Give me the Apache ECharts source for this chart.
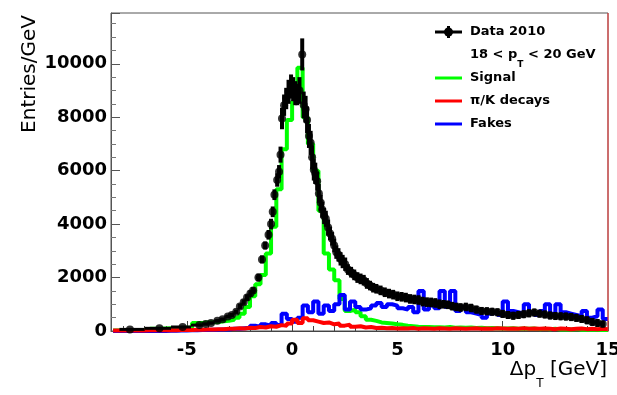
<!DOCTYPE html>
<html>
<head>
<meta charset="utf-8">
<script src="https://cdn.jsdelivr.net/npm/echarts@6/dist/echarts.min.js"></script>
<style>
  body { margin: 0; background: #fff; }
  #chart { width: 617px; height: 395px; }
</style>
</head>
<body>
<div id="chart"></div>
<script>
// histogram binning (GeV)
var binStart = -8.5;
var binWidth = 0.25;

// Signal (green), 94 bins from -8.5
var signal = [
  20, 20, 30, 30, 40, 40, 80, 80, 80, 90, 100, 100, 110, 120,
  130, 300, 300, 320, 330, 340, 360, 380, 420, 500, 650, 900,
  1300, 1750, 2100, 2900, 3900, 5300, 6800, 7900, 8600, 9850, 8000, 7000,
  6000, 4500, 2900, 2300, 1900, 1200, 750, 800, 700, 550, 420, 380,
  320, 300, 280, 250, 230, 200, 180, 160, 150, 150, 140, 140,
  130, 150, 120, 130, 120, 130, 110, 120, 100, 110, 100, 90,
  90, 100, 80, 90, 80, 90, 70, 80, 70, 80, 60, 70,
  60, 70, 50, 60, 50, 50, 40, 40
];

// pi/K decays (red)
var decays = [
  20, 20, 20, 20, 20, 20, 30, 30, 30, 30, 30, 30, 40, 40,
  40, 50, 50, 60, 60, 70, 70, 80, 80, 100, 90, 120,
  110, 150, 130, 180, 160, 220, 200, 280, 420, 300, 480, 400,
  350, 300, 320, 250, 280, 200, 240, 160, 180, 130, 150, 110,
  120, 100, 110, 90, 100, 90, 110, 80, 100, 90, 80, 100,
  90, 80, 100, 90, 80, 90, 100, 80, 90, 80, 100, 90,
  80, 90, 80, 100, 80, 90, 80, 90, 80, 70, 90, 80,
  70, 80, 90, 70, 80, 70, 80, 70
];

// Fakes (blue)
var fakes = [
  0, 0, 0, 0, 0, 0, 0, 0, 0, 0, 10, 10, 20, 20,
  30, 30, 40, 40, 50, 50, 60, 60, 80, 80, 100, 120,
  200, 150, 250, 200, 300, 220, 650, 450, 350, 500, 950, 700,
  1100, 650, 950, 750, 1000, 1350, 800, 1100, 900, 800, 850, 950,
  1050, 900, 1000, 950, 850, 800, 900, 700, 1500, 800, 950, 850,
  1500, 900, 1500, 750, 900, 700, 650, 600, 500, 650, 700, 600,
  1100, 750, 700, 650, 1000, 700, 600, 750, 1000, 650, 1000, 700,
  650, 600, 550, 750, 500, 550, 800, 450
];

// Data 2010 points
var dataX = [
  -7.7, -6.3, -5.2, -4.4, -4.1, -3.85, -3.55, -3.3, -3.05, -2.86, -2.65, -2.48,
  -2.3, -2.14, -1.98, -1.85, -1.6, -1.43, -1.28, -1.12, -1.0, -0.92, -0.84, -0.71,
  -0.62, -0.55, -0.48, -0.38, -0.28, -0.17, -0.05, 0.05, 0.15, 0.24, 0.35, 0.48,
  0.55, 0.64, 0.71, 0.8, 0.88, 0.95, 1.03, 1.1, 1.19, 1.27, 1.36, 1.43,
  1.52, 1.6, 1.71, 1.8, 1.9, 2.0, 2.1, 2.2, 2.3, 2.4, 2.52, 2.65,
  2.8, 2.95, 3.1, 3.25, 3.4, 3.55, 3.7, 3.85, 4.0, 4.2, 4.4, 4.6,
  4.8, 5.0, 5.2, 5.4, 5.6, 5.8, 6.0, 6.2, 6.4, 6.6, 6.8, 7.0,
  7.2, 7.4, 7.6, 7.8, 8.0, 8.25, 8.5, 8.75, 9.0, 9.25, 9.5, 9.75,
  10.0, 10.25, 10.5, 10.75, 11.0, 11.25, 11.5, 11.75, 12.0, 12.25, 12.5, 12.75,
  13.0, 13.25, 13.5, 13.75, 14.0, 14.25, 14.5, 14.75
];
var dataY = [
  60, 100, 150, 220, 260, 300, 380, 440, 540, 600, 720, 920,
  1080, 1250, 1400, 1520, 2000, 2680, 3200, 3600, 4000, 4460, 5100, 5650,
  5960, 6600, 7950, 8450, 8700, 8950, 9150, 9050, 8900, 8850, 9000, 10350,
  8460, 8300, 7900, 7300, 7040, 6500, 6030, 5900, 5600, 5150, 4800, 4540,
  4300, 4200, 3870, 3650, 3450, 3200, 2950, 2850, 2700, 2600, 2500, 2300,
  2200, 2100, 2000, 1950, 1900, 1780, 1700, 1620, 1580, 1520, 1450, 1400,
  1360, 1300, 1280, 1250, 1200, 1180, 1160, 1100, 1080, 1070, 1050, 1000,
  1000, 980, 930, 900, 880, 900, 860, 800, 750, 740, 720, 700,
  640, 600, 570, 600, 630, 660, 690, 650, 620, 580, 560, 550,
  540, 520, 490, 450, 400, 340, 300, 260
];
var dataErr = [
  30, 30, 40, 50, 50, 50, 60, 60, 70, 80, 80, 100,
  100, 120, 120, 120, 150, 150, 150, 180, 200, 200, 200, 250,
  250, 300, 400, 400, 400, 450, 450, 450, 450, 400, 500, 600,
  500, 500, 500, 450, 450, 450, 400, 400, 350, 350, 300, 300,
  300, 300, 300, 250, 250, 250, 250, 250, 250, 250, 250, 200,
  200, 200, 200, 200, 200, 200, 180, 180, 180, 180, 180, 180,
  180, 180, 180, 180, 180, 180, 180, 180, 180, 180, 180, 180,
  160, 160, 160, 160, 160, 160, 160, 150, 150, 150, 150, 150,
  150, 150, 150, 150, 150, 150, 150, 150, 150, 150, 150, 150,
  150, 150, 150, 150, 150, 150, 150, 120
];

// axis ticks
var xLabels = [-5, 0, 5, 10, 15];
var xMinor = [-8, -7, -6, -5, -4, -3, -2, -1, 0, 1, 2, 3, 4, 5, 6, 7, 8, 9, 10, 11, 12, 13, 14, 15];

function histData(vals) {
  var out = [];
  for (var i = 0; i < vals.length; i++) {
    out.push([binStart + i * binWidth, vals[i]]);
  }
  out.push([binStart + vals.length * binWidth, vals[vals.length - 1]]);
  return out;
}

var labelFont = { fontFamily: "DejaVu Sans", fontWeight: "bold", fontSize: 18, color: "#000" };

var chart = echarts.init(document.getElementById("chart"));

var option = {
  animation: false,
  backgroundColor: "#fff",
  grid: {
    left: 111, right: 9, top: 13, bottom: 64,
    outerBoundsMode: "none", containLabel: false,
    show: true, borderColor: "#555", borderWidth: 1
  },
  xAxis: [
    {
      type: "value", min: -8.6, max: 15,
      axisLine: { onZero: false, lineStyle: { color: "#444" } },
      splitLine: { show: false },
      axisTick: { inside: true, length: 10, customValues: xLabels, lineStyle: { color: "#444" } },
      axisLabel: Object.assign({ customValues: xLabels, margin: 10 }, labelFont)
    },
    {
      type: "value", min: -8.6, max: 15, position: "bottom",
      axisLine: { show: false, onZero: false },
      splitLine: { show: false },
      axisTick: { inside: true, length: 5, customValues: xMinor, lineStyle: { color: "#444" } },
      axisLabel: { show: false }
    }
  ],
  yAxis: {
    type: "value", min: 0, max: 11900, interval: 2000,
    axisLine: { show: true, onZero: false, lineStyle: { color: "#555" } },
    splitLine: { show: false },
    axisTick: { inside: true, length: 9, lineStyle: { color: "#555" } },
    minorTick: { show: true, splitNumber: 4, length: 5, lineStyle: { color: "#777" } },
    axisLabel: Object.assign({
      margin: 4,
      formatter: function (v) { return v % 2000 === 0 ? String(v) : ""; }
    }, labelFont)
  },
  series: [
    {
      name: "Signal", type: "line", step: "end", showSymbol: false,
      data: histData(signal),
      lineStyle: { color: "#00ff00", width: 4 }, itemStyle: { color: "#00ff00" }
    },
    {
      name: "Fakes", type: "line", step: "end", showSymbol: false,
      data: histData(fakes),
      lineStyle: { color: "#0000ff", width: 4 }, itemStyle: { color: "#0000ff" }
    },
    {
      name: "pi/K decays", type: "line", step: "end", showSymbol: false,
      data: histData(decays),
      lineStyle: { color: "#ff0000", width: 4 }, itemStyle: { color: "#ff0000" }
    },
    {
      // error bars of the data
      type: "custom",
      data: dataX.map(function (x, i) { return [x, dataY[i], dataErr[i]]; }),
      renderItem: function (params, api) {
        var i = params.dataIndex;
        var x = api.value(0), y = api.value(1), e = api.value(2);
        var lo = i > 0 ? (x + dataX[i - 1]) / 2 : x - 0.5;
        var hi = i < dataX.length - 1 ? (x + dataX[i + 1]) / 2 : x + 0.1;
        var pTop = api.coord([x, y + e]);
        var pBot = api.coord([x, Math.max(0, y - e)]);
        var pL = api.coord([lo, y]);
        var pR = api.coord([hi, y]);
        return {
          type: "group",
          children: [
            { type: "line", shape: { x1: pTop[0], y1: pTop[1], x2: pBot[0], y2: pBot[1] },
              style: { stroke: "#000", lineWidth: 4 } },
            { type: "line", shape: { x1: pL[0], y1: pL[1], x2: pR[0], y2: pR[1] },
              style: { stroke: "#000", lineWidth: 3 } }
          ]
        };
      },
      z: 5
    },
    {
      name: "Data 2010", type: "scatter", symbol: "circle", symbolSize: 8,
      data: dataX.map(function (x, i) { return [x, dataY[i]]; }),
      itemStyle: { color: "#000" }, z: 6
    }
  ],
  graphic: [
    // right frame edge
    { type: "line", shape: { x1: 608, y1: 13, x2: 608, y2: 331 }, style: { stroke: "#e33", lineWidth: 1 }, z: 10 },
    // y title
    { type: "text", x: 30, y: 15, rotation: Math.PI / 2,
      style: { text: "Entries/GeV", font: "20px 'DejaVu Sans'", fill: "#000", align: "right", verticalAlign: "middle" } },
    // x title
    { type: "text", x: 607, y: 375,
      style: {
        text: "{a|Δp}{s|T}{a| [GeV]}", align: "right", verticalAlign: "middle",
        rich: {
          a: { fontFamily: "DejaVu Sans", fontSize: 20, fill: "#000", lineHeight: 24, verticalAlign: "top" },
          s: { fontFamily: "DejaVu Sans", fontSize: 12, fill: "#000", lineHeight: 30, verticalAlign: "bottom" }
        }
      } },
    // legend
    { type: "line", shape: { x1: 435, y1: 32, x2: 462, y2: 32 }, style: { stroke: "#000", lineWidth: 3 } },
    { type: "circle", shape: { cx: 448.5, cy: 32, r: 4.5 }, style: { fill: "#000" } },
    { type: "line", shape: { x1: 448.5, y1: 26, x2: 448.5, y2: 38 }, style: { stroke: "#000", lineWidth: 3 } },
    { type: "text", x: 470, y: 32,
      style: { text: "Data 2010", font: "bold 13px 'DejaVu Sans'", fill: "#000", verticalAlign: "middle" } },
    { type: "text", x: 470, y: 48,
      style: {
        text: "{n|18 < p}{s|T}{n| < 20 GeV}",
        rich: {
          n: { fontFamily: "DejaVu Sans", fontWeight: "bold", fontSize: 13, fill: "#000", lineHeight: 16, verticalAlign: "top" },
          s: { fontFamily: "DejaVu Sans", fontWeight: "bold", fontSize: 9, fill: "#000", lineHeight: 21, verticalAlign: "bottom" }
        }
      } },
    { type: "line", shape: { x1: 435, y1: 78, x2: 462, y2: 78 }, style: { stroke: "#00ff00", lineWidth: 3 } },
    { type: "text", x: 470, y: 78,
      style: { text: "Signal", font: "bold 13px 'DejaVu Sans'", fill: "#000", verticalAlign: "middle" } },
    { type: "line", shape: { x1: 435, y1: 101, x2: 462, y2: 101 }, style: { stroke: "#ff0000", lineWidth: 3 } },
    { type: "text", x: 470, y: 101,
      style: { text: "π/K decays", font: "bold 13px 'DejaVu Sans'", fill: "#000", verticalAlign: "middle" } },
    { type: "line", shape: { x1: 435, y1: 124, x2: 462, y2: 124 }, style: { stroke: "#0000ff", lineWidth: 3 } },
    { type: "text", x: 470, y: 124,
      style: { text: "Fakes", font: "bold 13px 'DejaVu Sans'", fill: "#000", verticalAlign: "middle" } }
  ]
};

chart.setOption(option);
</script>
</body>
</html>
